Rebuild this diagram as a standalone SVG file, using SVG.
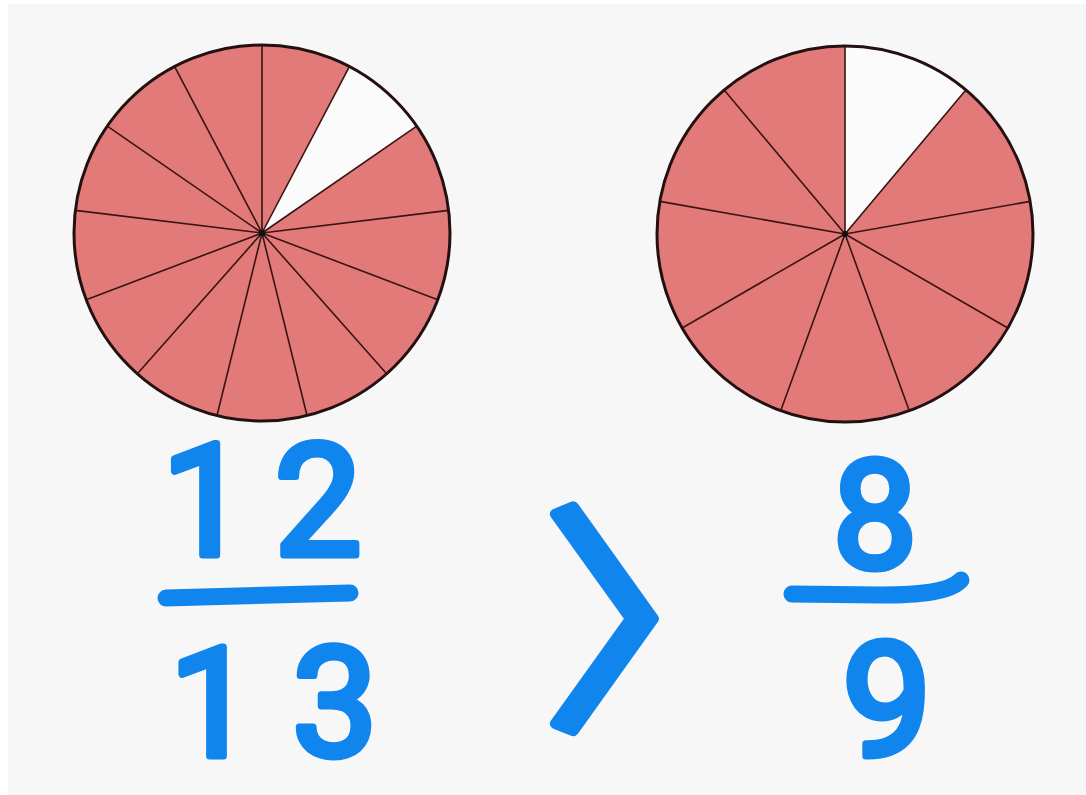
<svg xmlns="http://www.w3.org/2000/svg" width="1086" height="795" viewBox="0 0 1086 795">
<style>
.pie{fill:#e17a79}
.gap{fill:#fbfbfb}
.spoke{stroke:#3a1414;stroke-width:1.6;fill:none}
.rim{fill:none;stroke:#241010;stroke-width:3}
.hub{fill:#111}
.ink{fill:#1085ee;stroke:#1085ee;stroke-width:7;stroke-linejoin:round;stroke-linecap:round;font-family:Roboto,"Liberation Sans",sans-serif;font-weight:normal;text-anchor:middle}
.sym{fill:#1085ee;stroke:#1085ee;stroke-width:11;stroke-linejoin:round;stroke-linecap:round;font-family:"Noto Sans CJK JP",sans-serif;font-weight:normal}
.bar{fill:none;stroke:#1085ee;stroke-width:17;stroke-linecap:round;stroke-linejoin:round}
</style>
<rect x="0" y="0" width="1086" height="795" fill="#ffffff"/>
<rect x="8" y="4" width="1078" height="791" fill="#f7f7f7"/>

<g id="pie-13">
<circle class="pie" cx="262" cy="233" r="188"/>
<path class="gap" d="M262,233 L349.37,66.53 A188,188 0 0 1 416.72,126.20 Z"/>
<path class="spoke" d="M262,233 L262,45 M262,233 L349.37,66.53 M262,233 L416.72,126.20 M262,233 L448.63,210.35 M262,233 L437.78,299.66 M262,233 L386.66,373.72 M262,233 L306.99,415.53 M262,233 L217.01,415.53 M262,233 L137.34,373.72 M262,233 L86.22,299.66 M262,233 L75.37,210.35 M262,233 L107.28,126.20 M262,233 L174.63,66.53"/>
<circle class="rim" cx="262" cy="233" r="188"/>
<circle class="hub" cx="262" cy="233" r="3"/>
</g>

<g id="pie-9">
<circle class="pie" cx="845" cy="234" r="188"/>
<path class="gap" d="M845,234 L845,46 A188,188 0 0 1 965.84,89.98 Z"/>
<path class="spoke" d="M845,234 L845,46 M845,234 L965.84,89.98 M845,234 L1030.14,201.35 M845,234 L1007.81,328 M845,234 L909.30,410.66 M845,234 L780.70,410.66 M845,234 L682.19,328 M845,234 L659.86,201.35 M845,234 L724.16,89.98"/>
<circle class="rim" cx="845" cy="234" r="188"/>
<circle class="hub" cx="845" cy="234" r="3"/>
</g>

<g id="fraction-12-13">
<text class="ink" y="555" font-size="155"><tspan x="205">1</tspan><tspan x="318">2</tspan></text>
<path class="bar" d="M166,598 L350,593"/>
<text class="ink" y="756" font-size="152"><tspan x="212">1</tspan><tspan x="335">3</tspan></text>
</g>

<g id="greater-than">
<text class="sym" x="0" y="0" font-size="240" transform="translate(542,710) scale(1.12,1)">〉</text>
</g>

<g id="fraction-8-9">
<text class="ink" x="875" y="568" font-size="150">8</text>
<path class="bar" d="M792,594 L880,595 C920,595 950,592 961,580"/>
<text class="ink" x="887" y="756" font-size="160">9</text>
</g>
</svg>
